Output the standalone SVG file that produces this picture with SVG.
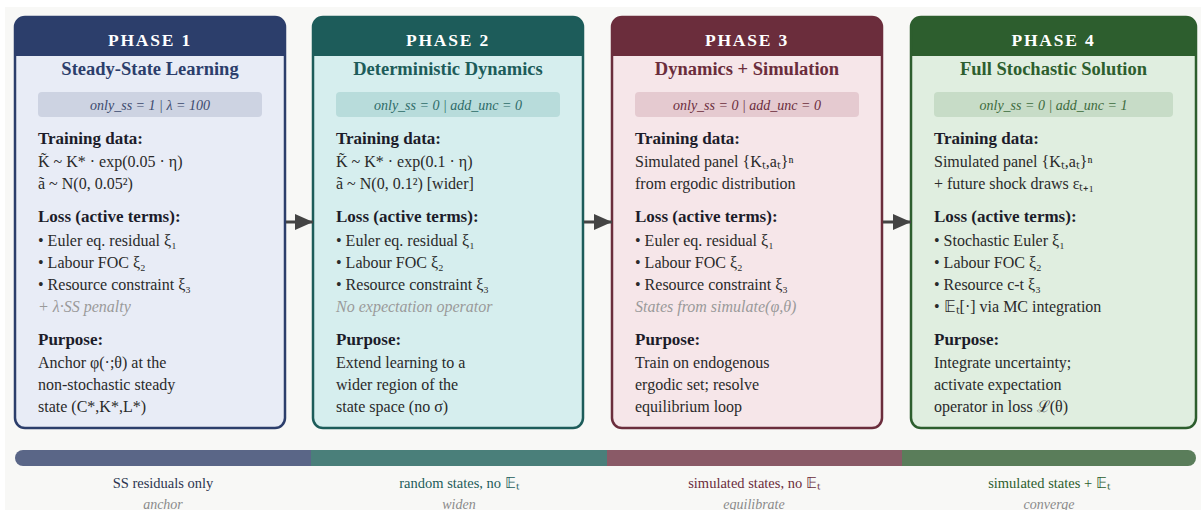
<svg xmlns="http://www.w3.org/2000/svg" width="1201" height="510" viewBox="0 0 1201 510">
<style>
text{font-family:"Liberation Serif","Times New Roman",serif;}
.ttl{font-size:17.5px;font-weight:bold;fill:#ffffff;letter-spacing:1.8px;text-anchor:middle;}
.sub{font-size:18.5px;font-weight:bold;text-anchor:middle;}
.par{font-size:14px;font-style:italic;text-anchor:middle;}
.hd{font-size:17px;font-weight:bold;fill:#1c1c2a;}
.bd{font-size:16px;fill:#2a2a2a;}
.it{font-size:16px;font-style:italic;fill:#9a9a9a;}
.bl{font-size:14.5px;text-anchor:middle;}
.bi{font-size:14px;font-style:italic;fill:#8a8a8a;text-anchor:middle;}
.box{fill:none;stroke-width:2.5;}
.arrow{stroke:#444444;stroke-width:3;fill:none;}
</style>
<defs>
<marker id="ah" markerWidth="18" markerHeight="16" refX="18" refY="8" orient="auto" markerUnits="userSpaceOnUse">
<path d="M0,0 L18,8 L0,16 Z" fill="#444444"/>
</marker>
</defs>
<rect x="0" y="0" width="1201" height="510" fill="#ffffff"/>
<rect x="5" y="7" width="1196" height="503" fill="#f8f8f6"/>

<g id="phase1">
<rect x="15" y="17" width="270" height="411" rx="10" fill="#e8ecf6"/>
<path d="M15,56 V27 Q15,17 25,17 H275 Q285,17 285,27 V56 Z" fill="#2c3e6b"/>
<rect class="box" x="15" y="17" width="270" height="411" rx="10" stroke="#2c3e6b"/>
<text class="ttl" x="150" y="46">PHASE 1</text>
<text class="sub" x="150" y="75" fill="#2c3e6b">Steady-State Learning</text>
<rect x="38" y="92" width="224" height="25" rx="4" fill="#cdd3e2"/>
<text class="par" x="150" y="110" fill="#3c4a6e">only_ss = 1 | λ = 100</text>
<text class="hd" x="38" y="144">Training data:</text>
<text class="bd" x="38" y="167">K̃ ~ K* · exp(0.05 · η)</text>
<text class="bd" x="38" y="189">ã ~ N(0, 0.05²)</text>
<text class="hd" x="38" y="222">Loss (active terms):</text>
<text class="bd" x="38" y="246">• Euler eq. residual ξ₁</text>
<text class="bd" x="38" y="268">• Labour FOC ξ₂</text>
<text class="bd" x="38" y="290">• Resource constraint ξ₃</text>
<text class="it" x="38" y="312">+ λ·SS penalty</text>
<text class="hd" x="38" y="345">Purpose:</text>
<text class="bd" x="38" y="368">Anchor φ(·;θ) at the</text>
<text class="bd" x="38" y="390">non-stochastic steady</text>
<text class="bd" x="38" y="412">state (C*,K*,L*)</text>
</g>

<g id="phase2">
<rect x="313" y="17" width="270" height="411" rx="10" fill="#d6eeee"/>
<path d="M313,56 V27 Q313,17 323,17 H573 Q583,17 583,27 V56 Z" fill="#1d5c5a"/>
<rect class="box" x="313" y="17" width="270" height="411" rx="10" stroke="#1d5c5a"/>
<text class="ttl" x="448" y="46">PHASE 2</text>
<text class="sub" x="448" y="75" fill="#1d5c5a">Deterministic Dynamics</text>
<rect x="336" y="92" width="224" height="25" rx="4" fill="#b8dcdb"/>
<text class="par" x="448" y="110" fill="#2d6b68">only_ss = 0 | add_unc = 0</text>
<text class="hd" x="336" y="144">Training data:</text>
<text class="bd" x="336" y="167">K̃ ~ K* · exp(0.1 · η)</text>
<text class="bd" x="336" y="189">ã ~ N(0, 0.1²) [wider]</text>
<text class="hd" x="336" y="222">Loss (active terms):</text>
<text class="bd" x="336" y="246">• Euler eq. residual ξ₁</text>
<text class="bd" x="336" y="268">• Labour FOC ξ₂</text>
<text class="bd" x="336" y="290">• Resource constraint ξ₃</text>
<text class="it" x="336" y="312">No expectation operator</text>
<text class="hd" x="336" y="345">Purpose:</text>
<text class="bd" x="336" y="368">Extend learning to a</text>
<text class="bd" x="336" y="390">wider region of the</text>
<text class="bd" x="336" y="412">state space (no σ)</text>
</g>

<g id="phase3">
<rect x="612" y="17" width="270" height="411" rx="10" fill="#f6e6e9"/>
<path d="M612,56 V27 Q612,17 622,17 H872 Q882,17 882,27 V56 Z" fill="#6b2d3c"/>
<rect class="box" x="612" y="17" width="270" height="411" rx="10" stroke="#6b2d3c"/>
<text class="ttl" x="747" y="46">PHASE 3</text>
<text class="sub" x="747" y="75" fill="#6b2d3c">Dynamics + Simulation</text>
<rect x="635" y="92" width="224" height="25" rx="4" fill="#e5cad0"/>
<text class="par" x="747" y="110" fill="#6b2d3c">only_ss = 0 | add_unc = 0</text>
<text class="hd" x="635" y="144">Training data:</text>
<text class="bd" x="635" y="167">Simulated panel {Kₜ,aₜ}ⁿ</text>
<text class="bd" x="635" y="189">from ergodic distribution</text>
<text class="hd" x="635" y="222">Loss (active terms):</text>
<text class="bd" x="635" y="246">• Euler eq. residual ξ₁</text>
<text class="bd" x="635" y="268">• Labour FOC ξ₂</text>
<text class="bd" x="635" y="290">• Resource constraint ξ₃</text>
<text class="it" x="635" y="312">States from simulate(φ,θ)</text>
<text class="hd" x="635" y="345">Purpose:</text>
<text class="bd" x="635" y="368">Train on endogenous</text>
<text class="bd" x="635" y="390">ergodic set; resolve</text>
<text class="bd" x="635" y="412">equilibrium loop</text>
</g>

<g id="phase4">
<rect x="911" y="17" width="285" height="411" rx="10" fill="#e0eee0"/>
<path d="M911,56 V27 Q911,17 921,17 H1186 Q1196,17 1196,27 V56 Z" fill="#2d5e2e"/>
<rect class="box" x="911" y="17" width="285" height="411" rx="10" stroke="#2d5e2e"/>
<text class="ttl" x="1053.5" y="46">PHASE 4</text>
<text class="sub" x="1053.5" y="75" fill="#2d5e2e">Full Stochastic Solution</text>
<rect x="934" y="92" width="239" height="25" rx="4" fill="#c7dcc7"/>
<text class="par" x="1053.5" y="110" fill="#3d6b3d">only_ss = 0 | add_unc = 1</text>
<text class="hd" x="934" y="144">Training data:</text>
<text class="bd" x="934" y="167">Simulated panel {Kₜ,aₜ}ⁿ</text>
<text class="bd" x="934" y="189">+ future shock draws εₜ₊₁</text>
<text class="hd" x="934" y="222">Loss (active terms):</text>
<text class="bd" x="934" y="246">• Stochastic Euler ξ₁</text>
<text class="bd" x="934" y="268">• Labour FOC ξ₂</text>
<text class="bd" x="934" y="290">• Resource c-t ξ₃</text>
<text class="bd" x="934" y="312">• 𝔼ₜ[·] via MC integration</text>
<text class="hd" x="934" y="345">Purpose:</text>
<text class="bd" x="934" y="368">Integrate uncertainty;</text>
<text class="bd" x="934" y="390">activate expectation</text>
<text class="bd" x="934" y="412">operator in loss ℒ(θ)</text>
</g>

<g id="connectors">
<line class="arrow" x1="286" y1="222" x2="313" y2="222" marker-end="url(#ah)"/>
<line class="arrow" x1="584" y1="222" x2="612" y2="222" marker-end="url(#ah)"/>
<line class="arrow" x1="883" y1="222" x2="911" y2="222" marker-end="url(#ah)"/>
</g>

<g id="progress">
<path d="M23,450 H311 V466 H23 A8,8 0 0 1 23,450 Z" fill="#5a6687"/>
<rect x="311" y="450" width="296" height="16" fill="#4a7f7a"/>
<rect x="607" y="450" width="295" height="16" fill="#8a5a67"/>
<path d="M902,450 H1188 A8,8 0 0 1 1188,466 H902 Z" fill="#5a7d5a"/>
<text class="bl" x="163" y="488" fill="#2c3550">SS residuals only</text>
<text class="bi" x="163" y="509">anchor</text>
<text class="bl" x="459" y="488" fill="#1d5c5a">random states, no 𝔼ₜ</text>
<text class="bi" x="459" y="509">widen</text>
<text class="bl" x="754" y="488" fill="#6b2d3c">simulated states, no 𝔼ₜ</text>
<text class="bi" x="754" y="509">equilibrate</text>
<text class="bl" x="1049" y="488" fill="#2d5e2e">simulated states + 𝔼ₜ</text>
<text class="bi" x="1049" y="509">converge</text>
</g>
</svg>
